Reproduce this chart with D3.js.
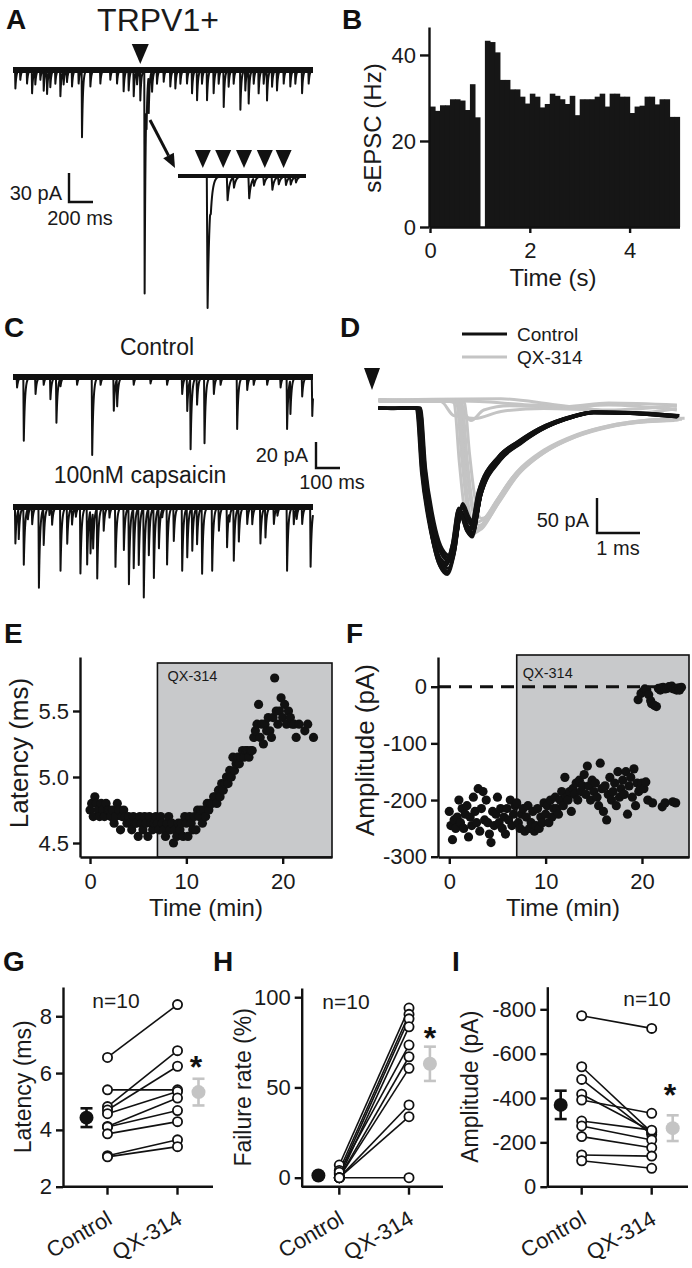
<!DOCTYPE html>
<html><head><meta charset="utf-8">
<script src="https://cdn.jsdelivr.net/npm/d3@7"></script>
<style>
body{margin:0;background:#fff;}
svg{display:block;}
</style></head><body>
<svg id="fig" width="692" height="1268"></svg>
<script>
// ================= DATA =================
// Panel A: spontaneous events in long trace [time ms, amplitude pA]
const aEvents = [[17,19],[58,10],[114,14],[156,24],[183,14],[225,10],[253,21],[281,24],[308,17],[350,14],[392,27],[419,14],[447,12],[489,17],[544,14],[572,69],[642,17],[725,14],[808,10],[864,14],[919,22],[961,21],[1003,27],[1031,14],[1058,31],[1094,230],[1110,30],[1128,38],[1156,21],[1197,14],[1253,12],[1308,17],[1350,19],[1392,14],[1447,14],[1489,24],[1531,31],[1572,14],[1614,31],[1669,24],[1711,14],[1753,38],[1794,17],[1836,14],[1892,41],[1933,21],[1961,34],[2003,14],[2044,24],[2086,14],[2114,31],[2156,17],[2197,21],[2253,14],[2308,17],[2350,14],[2406,24],[2461,14]];
const aStim = [1094];
// Panel A inset: events [time ms, amplitude pA] and stimulus times
const aInsetEvents = [[72,136],[80,12],[122,25],[138,11],[176,23],[188,8],[213,9],[234,14],[250,8],[268,9],[280,8],[293,6]];
const aInsetStim = [62,113,165,217,264];

// Panel B: sEPSC rate histogram, 0.1 s bins from 0 to 5 s
const bBinWidth = 0.1;
const bRates = [28,27,28.3,28.3,29.7,29.7,29.4,27.2,33.2,25.5,0,43.3,43,40.6,34.2,34.2,32,32,30.3,28.7,31,30.3,27.8,28.6,31,30.5,29.7,28.6,30.5,26,29.7,29.7,29.7,30.3,31,28,31,31,30.3,30.3,26.5,28,28.2,30.3,30.3,28.5,29.7,29.7,25.6,25.6];
const bYTicks = [0,20,40];
const bXTicks = [0,2,4];

// Panel C: events [time ms, amplitude pA]
const cControlEvents = [[15,8],[43,49],[92,13],[126,6],[154,17],[179,35],[196,6],[265,6],[328,60],[363,6],[418,26],[432,21],[501,6],[571,5],[640,6],[703,13],[724,26],[738,54],[765,21],[796,51],[835,13],[863,6],[932,40],[974,10],[1001,6],[1057,6],[1113,8],[1140,40],[1154,26],[1203,15],[1245,30]];
const cCapsEvents = [[8,28],[22,23],[43,44],[60,8],[78,13],[106,62],[126,28],[150,6],[161,13],[196,49],[224,28],[244,13],[260,7],[279,51],[307,44],[321,33],[332,28],[349,54],[376,18],[400,8],[425,46],[460,33],[481,59],[501,46],[522,44],[543,69],[564,36],[585,54],[606,31],[620,6],[640,44],[668,26],[703,49],[724,38],[745,33],[765,28],[786,51],[828,49],[856,18],[890,31],[900,7],[918,41],[939,26],[974,13],[995,13],[1029,28],[1050,23],[1085,13],[1100,6],[1140,49],[1168,13],[1180,8],[1203,13],[1238,46]];

// Panel D: eEPSC shapes [time ms, pA], per-trace peak (pA) and onset shift (ms)
const dCtrlShape = [[0.15,-7],[0.5,-8],[0.9,-7],[1.07,-8],[1.19,-105],[1.35,-177],[1.5,-220],[1.66,-240],[1.74,-243],[1.9,-215],[2.05,-160],[2.2,-182],[2.32,-190],[2.51,-134],[2.98,-81],[3.44,-58],[3.91,-39],[4.68,-20],[5.14,-14],[6.0,-15],[7.09,-20]];
const dCtrlPeaks = [243,236,228,222,240,232,218,245,226,230];
const dCtrlShifts = [0,0.03,-0.03,0.05,0.02,-0.02,0.06,0.01,0.04,-0.04];
const dQxShape = [[0.15,4],[1.0,3],[1.9,3],[1.97,0],[2.09,-81],[2.2,-143],[2.36,-181],[2.51,-177],[2.82,-148],[3.29,-105],[3.91,-72],[4.68,-48],[5.46,-34],[6.2,-27],[7.09,-24]];
const dQxPeaks = [181,170,188,175,165,184];
const dQxShifts = [0,0.08,-0.06,0.12,0.18,0.04];
const dQxFail1 = [[0.15,3],[1.5,4],[2.0,0],[2.3,-25],[2.6,-10],[3.2,-4],[4.5,-6],[5.5,-3],[7.09,-10]];
const dQxFail2 = [[0.15,5],[2.5,2],[3.5,-2],[4.5,-5],[5.5,0],[7.09,-3]];
const dQxFail3 = [[0.15,2],[1.6,2],[1.9,-18],[2.4,-22],[3.0,-12],[4.0,-8],[5.5,-10],[7.09,-4]];
const dQxFail4 = [[0.15,4],[3.0,6],[4.2,-2],[5.0,-8],[6.0,-15],[7.09,-8]];

// Panel E: latency (ms), one sweep every 10 s from 0 min
const eSweepMin = 1/6;
const eLatency = [
4.75,4.8,4.7,4.85,4.8,4.75, 4.7,4.8,4.75,4.7,4.8,4.75, 4.75,4.7,4.75,4.65,4.7,4.8, 4.75,4.6,4.7,4.75,4.7,4.65,
4.7,4.65,4.6,4.7,4.65,4.65, 4.55,4.7,4.65,4.6,4.7,4.65, 4.55,4.7,4.65,4.6,4.65,4.7, 4.65,4.6,4.7,4.65,4.6,4.55,
4.65,4.7,4.6,4.65,4.5,4.6, 4.55,4.65,4.6,4.65,4.55,4.7, 4.65,4.55,4.7,4.65,4.6,4.7, 4.6,4.75,4.7,4.75,4.65,4.75,
4.7,4.8,4.75,4.8,4.8,4.85, 4.85,4.8,4.9,4.85,4.95,4.9, 4.95,5.0,4.95,5.05,5.0,5.15, 5.05,5.1,5.15,5.1,5.15,5.2,
5.15,5.2,5.2,5.15,5.2,5.2, 5.3,5.35,5.4,5.55,5.3,5.4, 5.25,5.4,5.35,5.45,5.35,5.3, 5.45,5.75,5.5,5.4,5.5,5.6];
const eLate = [[20.0,5.45],[20.2,5.55],[20.4,5.4],[20.6,5.5],[20.8,5.45],[21.0,5.4],[21.2,5.4],[21.4,5.3],[21.7,5.4],[22.3,5.35],[22.6,5.4],[23.2,5.3]];
const eQxStart = 7;
const eYTicks = [4.5,5.0,5.5];
const tTicks = [0,10,20];

// Panel F: amplitude (pA), one sweep every 10 s from 0 min
const fAmp = [
-220,-245,-270,-235,-250,-230, -200,-240,-215,-250,-225,-210, -265,-230,-245,-195,-220,-240, -180,-255,-215,-185,-235,-200,
-240,-260,-275,-220,-245,-225, -195,-240,-215,-250,-230,-260, -215,-235,-200,-245,-225,-210, -205,-240,-250,-225,-215,-255,
-230,-210,-250,-240,-220,-255, -245,-215,-250,-230,-240,-205, -225,-210,-240,-200,-230,-215, -195,-215,-225,-200,-185,-210,
-160,-195,-200,-185,-220,-180, -190,-170,-200,-165,-185,-175, -155,-190,-140,-175,-200,-165, -185,-170,-195,-210,-135,-180,
-220,-175,-235,-190,-160,-200, -185,-170,-210,-150,-195,-180, -165,-190,-150,-225,-175,-160, -195,-145,-210,-170,-185,-180];
const fLateSuccess = [[20.0,-170],[20.2,-180],[20.4,-168],[20.6,-200],[21.1,-205],[22.1,-212],[22.4,-205],[23.2,-203],[23.5,-205]];
const fLateFail = [[19.6,-23],[19.9,-12],[20.1,-9],[20.3,-4],[20.5,-6],[20.7,-14],[20.9,-25],[21.0,-30],[21.3,-33],[21.5,-35],[21.7,-3],[21.9,-6],[22.0,-2],[22.2,-1],[22.4,-4],[22.6,-3],[22.8,0],[23.0,-2],[23.1,1],[23.3,-4],[23.5,-3],[23.6,-6],[23.8,-2],[23.9,-6],[24.1,-1]];
const fYTicks = [0,-100,-200,-300];

// Panels G-I: paired data (10 cells)
const conditions = ["Control","QX-314"];
const gControl = [6.55,5.41,4.82,4.70,4.57,4.12,4.10,3.86,3.09,3.05];
const gQX      = [8.41,5.41,6.79,6.24,5.35,5.12,4.68,4.29,3.65,3.41];
const gMean = [4.43,5.33], gSem = [0.33,0.47];
const gYTicks = [2,4,6,8];
const hControl = [0,7,4,2,0,3,0,0,0,0];
const hQX      = [0,94,90.5,88,83.6,73.5,67,60.6,40.3,33.8];
const hMean = [1.2,63.1], hSem = [0.8,9.5];
const hYTicks = [0,50,100];
const iControl = [771,541,484,417,391,296,274,226,143,117];
const iQX      = [714,245,235,250,331,255,211,176,138,83];
const iMean = [369,264], iSem = [64,58];
const iYTicks = [0,200,400,600,800];

// ================= DRAWING =================
const FONT = "'Liberation Sans', Arial, Helvetica, sans-serif";
const INK = "#111";
const GRAY = "#c4c4c4";
const svg = d3.select("#fig").attr("font-family", FONT);

function text(x, y, s, size, opts = {}) {
  const t = svg.append("text").attr("x", x).attr("y", y).text(s)
    .attr("font-size", size).attr("fill", opts.fill || "#1a1a1a")
    .attr("text-anchor", opts.anchor || "start")
    .attr("font-weight", opts.bold ? "bold" : "normal");
  if (opts.rotate !== undefined) t.attr("transform", `rotate(${opts.rotate},${x},${y})`);
  return t;
}
function styleAxis(g, fs) {
  g.selectAll("path.domain").attr("stroke", INK).attr("stroke-width", 2.4);
  g.selectAll(".tick line").attr("stroke", INK).attr("stroke-width", 2.4);
  g.selectAll(".tick text").attr("fill", "#1a1a1a").attr("font-size", fs).attr("font-family", FONT);
}
function triangleDown(cx, top, w, h) {
  svg.append("path").attr("d", `M${cx - w/2},${top}L${cx + w/2},${top}L${cx},${top + h}Z`).attr("fill", INK);
}
// trace from event list: sum of sharp events on baseline (sampled on a grid plus every event onset/peak)
function traceFromEvents(events, t0, t1, step, rise, tau) {
  const times = [];
  for (let t = t0; t <= t1; t += step) times.push(t);
  events.forEach(([te]) => { times.push(te, te + rise); });
  times.sort((a, b) => a - b);
  return times.map(t => {
    let v = 0;
    for (const [te, a] of events) {
      const dt = t - te;
      if (dt < 0) continue;
      if (dt < rise) v -= a * dt / rise;
      else if (dt - rise < 8 * tau) v -= a * Math.exp(-(dt - rise) / tau);
    }
    return [t, v];
  });
}
function drawTrace(events, xs, ys, t0, t1, step, rise, tau, band, sw) {
  const pts = traceFromEvents(events, t0, t1, step, rise, tau);
  svg.append("line").attr("x1", xs(t0)).attr("x2", xs(t1)).attr("y1", ys(0)).attr("y2", ys(0))
    .attr("stroke", INK).attr("stroke-width", band);
  svg.append("path").attr("d", d3.line().x(d => xs(d[0])).y(d => ys(d[1]))(pts))
    .attr("fill", "none").attr("stroke", INK).attr("stroke-width", sw).attr("stroke-linejoin", "round");
}
function scaleBar(x0, y0, hLen, vLen) {
  svg.append("path").attr("d", `M${x0},${y0 - vLen}L${x0},${y0}L${x0 + hLen},${y0}`)
    .attr("fill", "none").attr("stroke", INK).attr("stroke-width", 2.4);
}

// ---------- Panel letters ----------
[["A",6,29],["B",342,29],["C",4,337],["D",340,337],["E",4,643],["F",346,643],["G",3,971],["H",213,971],["I",452,971]]
  .forEach(([s,x,y]) => text(x, y, s, 28, {bold: true, fill: "#111"}));

// ---------- Panel A ----------
text(158, 31, "TRPV1+", 32, {anchor: "middle"});
const xA = d3.scaleLinear().domain([0, 2500]).range([13, 313]);
const yA = d3.scaleLinear().domain([0, -240]).range([70, 302.8]);
drawTrace(aEvents, xA, yA, 0, 2500, 1.5, 3, 8, 6, 2);
aStim.forEach(t => triangleDown(xA(t) - 4, 44, 17, 20));
// arrow to inset
(function(){
  const x1 = 150, y1 = 120, tx = 175, ty = 168;
  const dx = tx - x1, dy = ty - y1, L = Math.hypot(dx, dy), ux = dx / L, uy = dy / L;
  const bx = tx - 14 * ux, by = ty - 14 * uy;
  svg.append("line").attr("x1", x1).attr("y1", y1).attr("x2", bx).attr("y2", by).attr("stroke", INK).attr("stroke-width", 3);
  svg.append("path").attr("d", `M${tx},${ty}L${bx - 6*uy},${by + 6*ux}L${bx + 6*uy},${by - 6*ux}Z`).attr("fill", INK);
})();
const xAi = d3.scaleLinear().domain([0, 320]).range([178, 306]);
const yAi = d3.scaleLinear().domain([0, -136]).range([176, 308]);
drawTrace(aInsetEvents, xAi, yAi, 0, 320, 1, 2, 5, 4, 2);
aInsetStim.forEach(t => triangleDown(xAi(t), 150, 16, 18));
scaleBar(69, 202, xA(200) - xA(0), yA(-30) - yA(0));
text(62, 200, "30 pA", 20, {anchor: "end"});
text(80, 225, "200 ms", 20, {anchor: "middle"});

// ---------- Panel B ----------
const xB = d3.scaleLinear().domain([0, 5]).range([430, 679.5]);
const yB = d3.scaleLinear().domain([0, 46.5]).range([227, 27]);
svg.append("g").selectAll("rect").data(bRates).join("rect")
  .attr("x", (d, i) => xB(i * bBinWidth))
  .attr("width", (d, i) => xB((i + 1) * bBinWidth) - xB(i * bBinWidth) + 0.6)
  .attr("y", d => yB(d)).attr("height", d => yB(0) - yB(d)).attr("fill", "#161616");
styleAxis(svg.append("g").attr("transform", "translate(429,0)")
  .call(d3.axisLeft(yB).tickValues(bYTicks).tickFormat(d => String(d)).tickSize(9).tickPadding(4).tickSizeOuter(0)), 22);
styleAxis(svg.append("g").attr("transform", "translate(0,227)")
  .call(d3.axisBottom(xB).tickValues(bXTicks).tickFormat(d => String(d)).tickSize(6).tickPadding(9).tickSizeOuter(0)), 22);
text(553, 286, "Time (s)", 24, {anchor: "middle"});
text(381, 128, "sEPSC (Hz)", 24, {anchor: "middle", rotate: -90});

// ---------- Panel C ----------
text(157, 355, "Control", 23, {anchor: "middle"});
text(140, 483, "100nM capsaicin", 23, {anchor: "middle"});
const xC = d3.scaleLinear().domain([0, 1250]).range([13, 313]);
const yC1 = d3.scaleLinear().domain([0, -60]).range([377, 455]);
const yC2 = d3.scaleLinear().domain([0, -60]).range([507, 585]);
drawTrace(cControlEvents, xC, yC1, 0, 1250, 1, 2, 5, 6, 2);
drawTrace(cCapsEvents, xC, yC2, 0, 1250, 1, 2, 5, 6, 2);
scaleBar(316, 468, xC(100) - xC(0), yC1(-20) - yC1(0));
text(308, 462, "20 pA", 20, {anchor: "end"});
text(332, 489, "100 ms", 20, {anchor: "middle"});

// ---------- Panel D ----------
const xD = d3.scaleLinear().domain([0, 7.1]).range([372, 677.3]);
const yD = d3.scaleLinear().domain([0, -250]).range([403, 578]);
const lineD = d3.line().x(d => xD(d[0])).y(d => yD(d[1])).curve(d3.curveMonotoneX);
const dG = svg.append("g").attr("fill", "none").attr("stroke-linejoin", "round");
[dQxFail1, dQxFail2, dQxFail3, dQxFail4].forEach(tr =>
  dG.append("path").attr("d", lineD(tr)).attr("stroke", GRAY).attr("stroke-width", 3));
dQxPeaks.forEach((p, i) => {
  const tr = dQxShape.map(([t, v], k) => k === 0 ? [t, v] : [t + dQxShifts[i], v * p / 181]);
  dG.append("path").attr("d", lineD(tr)).attr("stroke", GRAY).attr("stroke-width", 3);
});
dCtrlPeaks.forEach((p, i) => {
  const tr = dCtrlShape.map(([t, v], k) => k === 0 ? [t, v] : [t + dCtrlShifts[i], v * p / 243]);
  dG.append("path").attr("d", lineD(tr)).attr("stroke", INK).attr("stroke-width", 3);
});
triangleDown(372, 368, 16, 22);
svg.append("line").attr("x1", 462).attr("x2", 507).attr("y1", 334).attr("y2", 334).attr("stroke", INK).attr("stroke-width", 3);
svg.append("line").attr("x1", 462).attr("x2", 507).attr("y1", 357).attr("y2", 357).attr("stroke", GRAY).attr("stroke-width", 3);
text(517, 341, "Control", 19);
text(517, 364, "QX-314", 19);
scaleBar(597, 533, xD(1) - xD(0), yD(-50) - yD(0));
text(589, 527, "50 pA", 20, {anchor: "end"});
text(618, 555, "1 ms", 20, {anchor: "middle"});

// ---------- Panel E ----------
const xE = d3.scaleLinear().domain([-1.04, 25.12]).range([80, 332]);
const yE = d3.scaleLinear().domain([4.394, 5.909]).range([857, 657]);
svg.append("rect").attr("x", xE(eQxStart)).attr("y", 663).attr("width", 332 - xE(eQxStart)).attr("height", 857 - 663)
  .attr("fill", "#c8c9cb").attr("stroke", INK).attr("stroke-width", 1.6);
text(xE(eQxStart) + 10, 681, "QX-314", 14.5);
const ePts = eLatency.map((v, i) => [i * eSweepMin, v]).concat(eLate);
svg.append("g").selectAll("circle").data(ePts).join("circle")
  .attr("cx", d => xE(d[0])).attr("cy", d => yE(d[1])).attr("r", 4.6).attr("fill", INK);
styleAxis(svg.append("g").attr("transform", "translate(80,0)")
  .call(d3.axisLeft(yE).tickValues(eYTicks).tickFormat(d3.format(".1f")).tickSize(7).tickPadding(4).tickSizeOuter(0)), 22);
styleAxis(svg.append("g").attr("transform", "translate(0,857)")
  .call(d3.axisBottom(xE).tickValues(tTicks).tickFormat(d => String(d)).tickSize(7).tickPadding(9).tickSizeOuter(0)), 22);
text(206, 916, "Time (min)", 24, {anchor: "middle"});
text(28, 753, "Latency (ms)", 26, {anchor: "middle", rotate: -90});

// ---------- Panel F ----------
const xF = d3.scaleLinear().domain([-1.17, 24.88]).range([438, 689]);
const yF = d3.scaleLinear().domain([-300.5, 52.4]).range([857, 657]);
svg.append("rect").attr("x", xF(eQxStart)).attr("y", 655).attr("width", 689 - xF(eQxStart)).attr("height", 857 - 655)
  .attr("fill", "#c8c9cb").attr("stroke", INK).attr("stroke-width", 1.6);
text(xF(eQxStart) + 6, 678, "QX-314", 14.5);
svg.append("line").attr("x1", 438).attr("x2", xF(24.2)).attr("y1", yF(0)).attr("y2", yF(0))
  .attr("stroke", INK).attr("stroke-width", 3).attr("stroke-dasharray", "13,8");
const fPts = fAmp.map((v, i) => [i * eSweepMin, v]).concat(fLateSuccess, fLateFail);
svg.append("g").selectAll("circle").data(fPts).join("circle")
  .attr("cx", d => xF(d[0])).attr("cy", d => yF(d[1])).attr("r", 4.6).attr("fill", INK);
styleAxis(svg.append("g").attr("transform", "translate(438,0)")
  .call(d3.axisLeft(yF).tickValues(fYTicks).tickFormat(d => String(d)).tickSize(7).tickPadding(4).tickSizeOuter(0)), 22);
styleAxis(svg.append("g").attr("transform", "translate(0,857)")
  .call(d3.axisBottom(xF).tickValues(tTicks).tickFormat(d => String(d)).tickSize(7).tickPadding(9).tickSizeOuter(0)), 22);
text(563, 916, "Time (min)", 24, {anchor: "middle"});
text(374, 750, "Amplitude (pA)", 26, {anchor: "middle", rotate: -90});

// ---------- Panels G, H, I ----------
function pairedPanel(cfg) {
  const { ctrl, qx, mean, sem, x0, x1, xC0, xQ0, yScale, ticks, fmt, title, titleX, nX, nY, starX, starY } = cfg;
  const xs = d3.scaleLinear().domain([0, 1]).range([xC0, xQ0]);
  const g = svg.append("g");
  ctrl.forEach((c, i) => g.append("line").attr("x1", xs(0)).attr("x2", xs(1)).attr("y1", yScale(c)).attr("y2", yScale(qx[i]))
    .attr("stroke", INK).attr("stroke-width", 1.6));
  [[ctrl, 0], [qx, 1]].forEach(([arr, k]) => g.selectAll(null).data(arr).join("circle")
    .attr("cx", xs(k)).attr("cy", d => yScale(d)).attr("r", 4.6).attr("fill", "#fff").attr("stroke", INK).attr("stroke-width", 1.8));
  const mOff = [-0.3, 0.3];
  mean.forEach((m, k) => {
    const col = k === 0 ? INK : GRAY, cx = xs(k + mOff[k]);
    g.append("line").attr("x1", cx).attr("x2", cx).attr("y1", yScale(m - sem[k])).attr("y2", yScale(m + sem[k])).attr("stroke", col).attr("stroke-width", 2.6);
    [m - sem[k], m + sem[k]].forEach(v => g.append("line").attr("x1", cx - 6).attr("x2", cx + 6).attr("y1", yScale(v)).attr("y2", yScale(v)).attr("stroke", col).attr("stroke-width", 2.6));
    g.append("circle").attr("cx", cx).attr("cy", yScale(m)).attr("r", 7).attr("fill", col);
  });
  styleAxis(svg.append("g").attr("transform", `translate(${x0},0)`)
    .call(d3.axisLeft(yScale).tickValues(ticks).tickFormat(fmt).tickSize(7).tickPadding(4).tickSizeOuter(0)), 22);
  const yb = yScale.range()[0];
  svg.append("line").attr("x1", x0).attr("x2", x1).attr("y1", yb).attr("y2", yb).attr("stroke", INK).attr("stroke-width", 2.4);
  [0, 1].forEach(k => svg.append("line").attr("x1", xs(k)).attr("x2", xs(k)).attr("y1", yb).attr("y2", yb + 8).attr("stroke", INK).attr("stroke-width", 2.4));
  conditions.forEach((c, k) => text(xs(k) + 6, 1223, c, 22, {anchor: "end", rotate: -30}));
  text(nX, nY, "n=10", 21, {anchor: "middle"});
  text(starX, starY, "*", 32, {anchor: "middle", bold: true, fill: "#111"});
  text(titleX, (yScale.range()[0] + yScale.range()[1]) / 2, title, 23, {anchor: "middle", rotate: -90});
}
pairedPanel({ ctrl: gControl, qx: gQX, mean: gMean, sem: gSem, x0: 63, x1: 213, xC0: 107.5, xQ0: 177.5,
  yScale: d3.scaleLinear().domain([2, 9.03]).range([1186.7, 987]), ticks: gYTicks, fmt: d => String(d),
  title: "Latency (ms)", titleX: 31, nX: 116, nY: 1008, starX: 196, starY: 1078 });
pairedPanel({ ctrl: hControl, qx: hQX, mean: hMean, sem: hSem, x0: 301.7, x1: 443, xC0: 339.3, xQ0: 409,
  yScale: d3.scaleLinear().domain([-5, 105.1]).range([1186.7, 988]), ticks: hYTicks, fmt: d => String(d),
  title: "Failure rate (%)", titleX: 251, nX: 346, nY: 1009, starX: 430, starY: 1049 });
pairedPanel({ ctrl: iControl, qx: iQX, mean: iMean, sem: iSem, x0: 547.3, x1: 688, xC0: 581.7, xQ0: 651.7,
  yScale: d3.scaleLinear().domain([0, 902]).range([1186.7, 986.7]), ticks: iYTicks, fmt: d => d === 0 ? "0" : "-" + d,
  title: "Amplitude (pA)", titleX: 478, nX: 647, nY: 1006, starX: 670, starY: 1106 });
</script>
</body></html>
